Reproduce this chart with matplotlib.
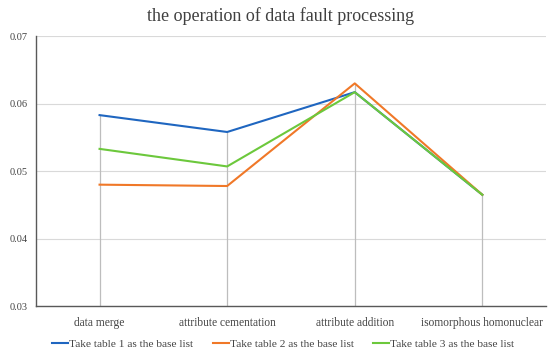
import matplotlib
matplotlib.use("Agg")
import matplotlib.pyplot as plt
import numpy as np

categories = ["data merge", "attribute cementation", "attribute addition", "isomorphous homonuclear"]
series_names = ["Take table 1 as the base list", "Take table 2 as the base list", "Take table 3 as the base list"]
table1 = [0.0583, 0.0558, 0.0617, 0.0465]
table2 = [0.0480, 0.0478, 0.0630, 0.0465]
table3 = [0.0533, 0.0507, 0.0617, 0.0465]
yticks = [0.03, 0.04, 0.05, 0.06, 0.07]
colors = ["#1f66c0", "#f07828", "#6cc83c"]

plt.rcParams['font.family'] = ['Liberation Serif', 'DejaVu Serif']

fig = plt.figure(figsize=(5.5, 3.54), dpi=100)
ax = fig.add_axes([0.065, 0.135, 0.928, 0.763])

x = np.arange(len(categories)) + 0.5
allv = np.array([table1, table2, table3])
# drop lines
ax.vlines(x, 0.03, allv.max(axis=0), color="#bdbdbd", lw=0.9, zorder=1)

for vals, c, n in zip([table1, table2, table3], colors, series_names):
    ax.plot(x, vals, color=c, lw=1.5, label=n, zorder=3)

ax.set_xlim(0, 4)
ax.set_ylim(0.03, 0.07)
ax.set_yticks(yticks)
ax.set_yticklabels([f"{v:.2f}" for v in yticks], fontsize=7.5, color="#444444")
ax.set_xticks(x)
ax.set_xticklabels(categories, fontsize=8.3, color="#444444")
ax.tick_params(length=0, pad=8)
ax.tick_params(axis='y', pad=6)
ax.yaxis.grid(True, color="#d9d9d9", lw=0.8)
ax.set_axisbelow(True)
for s in ["top", "right"]:
    ax.spines[s].set_visible(False)
ax.spines["left"].set_color("#595959")
ax.spines["bottom"].set_color("#595959")
ax.spines["left"].set_linewidth(1.0)
ax.spines["bottom"].set_linewidth(1.0)

fig.suptitle("the operation of data fault processing", x=0.51, y=0.98, fontsize=13, color="#404040")
fig.legend(loc="lower center", bbox_to_anchor=(0.515, -0.015), ncol=3, frameon=False,
           fontsize=8.2, handlelength=1.4, handletextpad=0.1, columnspacing=1.7,
           labelcolor="#444444")

fig.savefig("out.png", dpi=100)
